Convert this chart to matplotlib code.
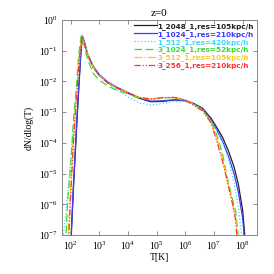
import numpy as np
import matplotlib
matplotlib.use("Agg")
import matplotlib.pyplot as plt

# log10(T) / log10(dN/dlogT)
names = ["1_2048_1,res=105kpc/h", "1_1024_1,res=210kpc/h", "1_512_1,res=420kpc/h",
         "3_1024_1,res=52kpc/h", "3_512_1,res=105kpc/h", "3_256_1,res=210kpc/h"]
colors = ["#222222", "#3a3aff", "#33ddff", "#33dd33", "#ffcc11", "#ff3333"]
styles = ["-", "-", ":", (0, (6, 3)), "-.", (0, (5, 1.5, 1, 1.5, 1, 1.5))]

lt_black = [2.0, 2.1, 2.2, 2.29, 2.36, 2.41, 2.49, 2.6, 2.8, 3.0, 3.3, 3.6, 4.0, 4.4, 4.8,
            5.2, 5.6, 6.0, 6.3, 6.6, 6.9, 7.1, 7.3, 7.5, 7.7, 7.85, 8.0, 8.1]
ln_black = [-7.5, -5.5, -3.7, -2.17, -1.08, -0.52, -0.76, -1.15, -1.55, -1.8, -2.05, -2.2, -2.38, -2.55, -2.66,
            -2.65, -2.6, -2.62, -2.72, -2.87, -3.2, -3.5, -3.82, -4.25, -4.78, -5.35, -6.2, -7.3]

lt_blue = [2.0, 2.1, 2.2, 2.29, 2.36, 2.41, 2.49, 2.6, 2.8, 3.0, 3.3, 3.6, 4.0, 4.4, 4.8,
           5.2, 5.6, 6.0, 6.3, 6.6, 6.9, 7.1, 7.3, 7.5, 7.7, 7.85, 8.0, 8.08]
ln_blue = [-7.5, -5.4, -3.6, -2.1, -1.05, -0.52, -0.74, -1.12, -1.52, -1.77, -2.02, -2.18, -2.36, -2.53, -2.64,
           -2.63, -2.6, -2.63, -2.74, -2.9, -3.25, -3.58, -3.95, -4.42, -5.0, -5.6, -6.45, -7.3]

lt_cyan = [1.7, 1.85, 2.0, 2.1, 2.2, 2.3, 2.38, 2.42, 2.5, 2.6, 2.8, 3.0, 3.3, 3.6, 4.0, 4.4,
           4.8, 5.2, 5.6, 6.0, 6.3, 6.6, 6.9, 7.1, 7.3, 7.5, 7.7, 7.85, 7.95, 8.0]
ln_cyan = [-7.4, -6.2, -4.6, -3.5, -2.6, -1.5, -0.7, -0.52, -0.72, -1.1, -1.5, -1.78, -2.05, -2.25, -2.5, -2.7,
           -2.77, -2.72, -2.65, -2.65, -2.73, -2.9, -3.28, -3.6, -4.0, -4.5, -5.3, -6.1, -6.9, -7.3]

lt_green = [1.83, 1.9, 2.0, 2.1, 2.2, 2.29, 2.37, 2.45, 2.6, 2.8, 3.0, 3.3, 3.6, 4.0, 4.4,
            4.8, 5.2, 5.6, 6.0, 6.3, 6.6, 6.9, 7.1, 7.3, 7.5, 7.65, 7.75, 7.84, 7.88]
ln_green = [-7.3, -5.9, -4.8, -3.3, -2.2, -1.1, -0.52, -0.75, -1.3, -1.75, -1.95, -2.15, -2.28, -2.4, -2.55,
            -2.58, -2.53, -2.52, -2.6, -2.75, -2.95, -3.28, -3.75, -4.37, -5.3, -5.85, -6.2, -6.95, -7.3]

lt_yellow = [1.9, 2.0, 2.1, 2.2, 2.3, 2.39, 2.47, 2.6, 2.8, 3.0, 3.3, 3.6, 4.0, 4.4,
             4.8, 5.2, 5.6, 6.0, 6.3, 6.6, 6.9, 7.1, 7.3, 7.5, 7.65, 7.75, 7.83, 7.87]
ln_yellow = [-7.3, -5.5, -3.9, -2.5, -1.25, -0.52, -0.74, -1.15, -1.55, -1.8, -2.05, -2.2, -2.37, -2.52,
             -2.57, -2.53, -2.52, -2.6, -2.76, -2.95, -3.32, -3.85, -4.5, -5.35, -5.95, -6.4, -7.0, -7.3]

lt_red = [1.93, 2.0, 2.1, 2.2, 2.3, 2.4, 2.48, 2.6, 2.8, 3.0, 3.3, 3.6, 4.0, 4.4,
          4.8, 5.2, 5.6, 6.0, 6.3, 6.6, 6.9, 7.1, 7.3, 7.5, 7.65, 7.75, 7.82]
ln_red = [-7.3, -5.8, -4.0, -2.6, -1.3, -0.52, -0.74, -1.15, -1.55, -1.8, -2.05, -2.2, -2.37, -2.52,
          -2.57, -2.53, -2.52, -2.6, -2.78, -2.95, -3.35, -3.95, -4.6, -5.4, -6.0, -6.5, -7.3]

series = [(lt_black, ln_black), (lt_blue, ln_blue), (lt_cyan, ln_cyan),
          (lt_green, ln_green), (lt_yellow, ln_yellow), (lt_red, ln_red)]

plt.rcParams['font.family'] = ['Liberation Serif', 'DejaVu Serif']
plt.rcParams['mathtext.fontset'] = 'stix'

fig = plt.figure(figsize=(2.74, 2.74), dpi=100)
ax = fig.add_axes([0.226, 0.142, 0.712, 0.785])

for (lt, ln), c, ls, nm in zip(series, colors, styles, names):
    ax.plot(10 ** np.array(lt), 10 ** np.array(ln), color=c, ls=ls, lw=0.9, label=nm)

ax.set_xscale('log')
ax.set_yscale('log')
ax.set_xlim(10 ** 1.7, 10 ** 8.5)
ax.set_ylim(1e-7, 1)
ax.set_xticks([10.0 ** k for k in range(2, 9)])
ax.set_yticks([10.0 ** k for k in range(-7, 1)])
ax.minorticks_off()
ax.tick_params(direction='in', length=3, width=0.6, top=True, right=True,
               labelsize=7, color='#777777', pad=3)
for s in ax.spines.values():
    s.set_color('#888888')
    s.set_linewidth(0.7)

ax.set_title("z=0", fontsize=8, pad=3)
ax.set_xlabel("T[K]", fontsize=7, labelpad=1)
ax.set_ylabel("dN/dlog(T)", fontsize=7, labelpad=4)

leg = ax.legend(loc='upper right', frameon=False, handlelength=3.2,
                handletextpad=0.1, labelspacing=0.12, borderaxespad=0.2,
                borderpad=0.2,
                prop={'family': 'DejaVu Sans', 'weight': 'bold', 'size': 5.2})
for txt, c in zip(leg.get_texts(), colors):
    txt.set_color(c)

fig.savefig("out.png", dpi=100)
